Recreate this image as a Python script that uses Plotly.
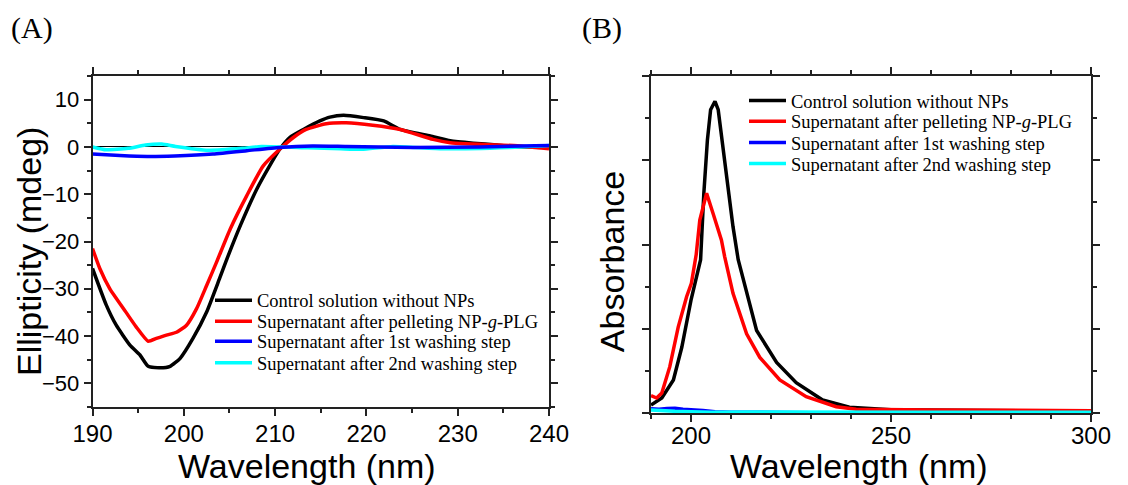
import plotly.graph_objects as go

# ---------------- Panel A: CD spectra ----------------
a_black_x = [190, 191.5, 192.6, 194.1, 195.2, 196.1, 197.4, 198.5, 199.6, 201.0, 202.5, 203.9, 204.6, 206.2,
             208.0, 209.4, 210.5, 211.6, 213.1, 214.9, 216.0, 217.5, 219.7, 221.9, 223.7, 227.0, 229.2,
             231.7, 234.3, 236.1, 240]
a_black_y = [-25.7, -33.4, -37.7, -41.9, -44.0, -46.4, -46.7, -46.4, -44.7, -40.5, -34.9, -27.9, -24.3, -16.6,
             -8.9, -4.0, -0.5, 2.0, 3.7, 5.5, 6.3, 6.7, 6.2, 5.5, 3.7, 2.3, 1.3, 0.8, 0.4, 0.1, -0.1]

a_red_x = [190, 190.8, 191.9, 193.4, 194.8, 196.1, 197.0, 198.1, 199.2, 200.3, 201.4, 202.5, 203.6, 205.1,
           206.9, 208.7, 210.5, 212.0, 213.4, 215.6, 217.8, 220.7, 223.7, 227.3, 229.2, 234.3, 236.1, 240]
a_red_y = [-21.5, -25.7, -30.0, -34.2, -38.1, -41.1, -40.5, -39.8, -39.2, -37.7, -34.2, -29.3, -24.3, -17.3,
           -10.3, -4.0, -0.5, 2.0, 3.7, 4.9, 5.1, 4.6, 3.7, 1.6, 0.9, 0.4, 0.3, -0.4]

a_blue_x = [190, 193, 196, 199, 203.2, 206.9, 210.5, 214.1, 217.8, 225.1, 232.4, 240]
a_blue_y = [-1.5, -1.8, -2.0, -1.9, -1.5, -0.8, -0.1, 0.2, 0.1, -0.1, 0.0, 0.3]

a_cyan_x = [190, 191.5, 193.9, 195.8, 197.6, 199.1, 202.7, 206.4, 208.5, 213.6, 217.2, 219.5, 222.9, 228.4,
            235.7, 240]
a_cyan_y = [0.0, -0.6, -0.3, 0.4, 0.6, 0.1, -0.7, -0.3, 0.1, -0.2, -0.4, -0.5, 0.1, -0.4, -0.1, 0.3]

# ---------------- Panel B: UV absorbance ----------------
b_black_x = [190, 192.7, 195.6, 197.7, 200, 202.4, 203.2, 204.1, 204.9, 206, 206.8, 208.4, 210.5, 211.8,
             213.9, 216.4, 221.4, 226.3, 232.9, 239.6, 250, 270, 300]
b_black_y = [0.047, 0.089, 0.196, 0.39, 0.67, 0.91, 1.30, 1.62, 1.80, 1.85, 1.80, 1.50, 1.106, 0.91,
             0.71, 0.49, 0.30, 0.18, 0.077, 0.034, 0.02, 0.015, 0.01]

b_red_x = [190, 191.4, 192.7, 194.7, 196.8, 198.9, 200.1, 201.3, 202.2, 203.9, 205.5, 207.6, 208.4, 210.5,
           213.9, 217.2, 222.2, 228.8, 236.3, 241.3, 260, 300]
b_red_y = [0.103, 0.089, 0.119, 0.275, 0.51, 0.69, 0.77, 0.94, 1.145, 1.304, 1.185, 1.027, 0.93, 0.71,
           0.47, 0.33, 0.196, 0.097, 0.037, 0.022, 0.018, 0.014]

b_blue_x = [190, 192, 194, 196, 198, 200, 203, 206, 210, 230, 260, 300]
b_blue_y = [0.025, 0.022, 0.026, 0.028, 0.022, 0.02, 0.015, 0.008, 0.005, 0.002, 0.002, 0.001]

b_cyan_x = [190, 193, 196, 200, 205, 215, 230, 260, 300]
b_cyan_y = [0.018, 0.012, 0.010, 0.008, 0.005, 0.006, 0.004, 0.005, 0.004]

names = ["Control solution without NPs",
         "Supernatant after pelleting NP-<i>g</i>-PLG",
         "Supernatant after 1st washing step",
         "Supernatant after 2nd washing step"]
colors = ["#000000", "#FF0000", "#0000FF", "#00FFFF"]

W, H = 1128, 485
def px_x(p): return p / W
def px_y(p): return 1 - p / H

fig = go.Figure()
LW = 3.5

seriesA = [(a_black_x, a_black_y, 0), (a_red_x, a_red_y, 1), (a_cyan_x, a_cyan_y, 3), (a_blue_x, a_blue_y, 2)]
for xs, ys, i in seriesA:
    fig.add_trace(go.Scatter(x=xs, y=ys, mode="lines", name=names[i],
                             line=dict(color=colors[i], width=LW, shape="spline", smoothing=0.5),
                             xaxis="x", yaxis="y", legend="legend" if i == 0 else f"legend{i+1}"))

seriesB = [(b_black_x, b_black_y, 0), (b_red_x, b_red_y, 1), (b_blue_x, b_blue_y, 2), (b_cyan_x, b_cyan_y, 3)]
for xs, ys, i in seriesB:
    fig.add_trace(go.Scatter(x=xs, y=ys, mode="lines", name=names[i],
                             line=dict(color=colors[i], width=LW),
                             xaxis="x2", yaxis="y2", legend=f"legend{i+5}"))

LEGFONT = dict(family="Liberation Serif", size=18.5, color="black")
def leg(xp, yp):
    return dict(x=px_x(xp), y=px_y(yp), xanchor="left", yanchor="middle", bgcolor="rgba(0,0,0,0)",
                borderwidth=0, font=LEGFONT, itemwidth=37, tracegroupgap=0)

a_rows = [300.7, 321.7, 341.7, 363.3]
b_rows = [101, 121.7, 143, 164]
legs = {}
for i, r in enumerate(a_rows):
    legs["legend" if i == 0 else f"legend{i+1}"] = leg(210, r)
for i, r in enumerate(b_rows):
    legs[f"legend{i+5}"] = leg(744, r)

axcommon = dict(showline=True, linecolor="#222", linewidth=1.5, mirror="ticks", ticks="outside",
                ticklen=7, tickwidth=1.5, tickcolor="#222", showgrid=False, zeroline=False)
minor_common = dict(ticks="outside", ticklen=4, tickwidth=1.5, tickcolor="#222")

fig.update_layout(
    width=W, height=H, margin=dict(l=0, r=0, t=0, b=0, autoexpand=False),
    paper_bgcolor="white", plot_bgcolor="white", showlegend=True,
    xaxis=dict(domain=[px_x(92.5), px_x(549)], range=[190, 240], tick0=190, dtick=10,
               minor=dict(dtick=5, **minor_common), ticklabelstandoff=-3,
               tickfont=dict(family="Liberation Sans", size=24, color="black"), anchor="y", **axcommon),
    yaxis=dict(domain=[px_y(407), px_y(76)], range=[-55, 15], tick0=0, dtick=10,
               minor=dict(dtick=5, **minor_common),
               tickfont=dict(family="Liberation Sans", size=22, color="black"), anchor="x",
               **{**axcommon, "zeroline": True}, zerolinecolor="black", zerolinewidth=1),
    xaxis2=dict(domain=[px_x(651), px_x(1091)], range=[190, 300], tick0=0, dtick=50,
                minor=dict(dtick=10, **minor_common), ticklabelstandoff=-7,
                tickfont=dict(family="Liberation Sans", size=24, color="black"), anchor="y2", **axcommon),
    yaxis2=dict(domain=[px_y(413), px_y(76)], range=[0, 2.0], tick0=0, dtick=0.5, showticklabels=False,
                minor=dict(dtick=0.25, **minor_common), anchor="x2", **axcommon),
    **legs,
)

TITLEFONT = dict(family="Liberation Sans", size=34, color="black")
ann = [
    dict(text="(A)", x=px_x(31.5), y=px_y(28), font=dict(family="Liberation Serif", size=30, color="black")),
    dict(text="(B)", x=px_x(601.7), y=px_y(28), font=dict(family="Liberation Serif", size=30, color="black")),
    dict(text="Wavelength (nm)", x=px_x(307), y=px_y(466), font=TITLEFONT),
    dict(text="Wavelength (nm)", x=px_x(858.5), y=px_y(466), font=TITLEFONT),
    dict(text="Ellipticity (mdeg)", x=px_x(28.5), y=px_y(251.5), textangle=-90, font=TITLEFONT),
    dict(text="Absorbance", x=px_x(611.5), y=px_y(261.7), textangle=-90, font=TITLEFONT),
]
for a in ann:
    fig.add_annotation(xref="paper", yref="paper", showarrow=False, xanchor="center", yanchor="middle", **a)

fig.write_html("out.html", config={"displayModeBar": False},
               post_script="document.body.style.margin='0px';")
